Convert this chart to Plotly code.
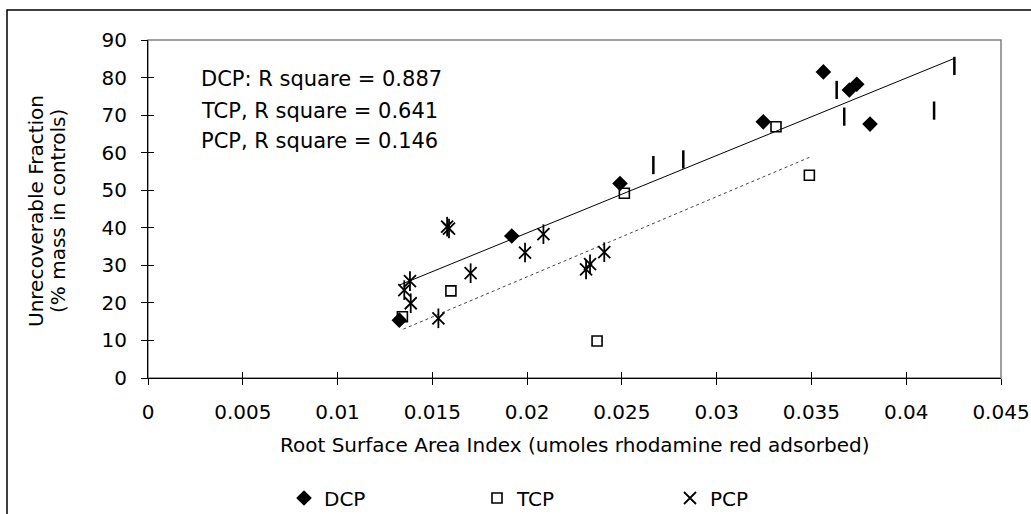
import plotly.graph_objects as go

# values
dcp_x = [0.01326, 0.01919, 0.0249, 0.03246, 0.03563, 0.0370, 0.03739, 0.03809]
dcp_y = [15.4, 37.8, 51.8, 68.2, 81.5, 76.7, 78.2, 67.6]

# extra unlabelled points drawn as short vertical bars
bar_x = [0.02666, 0.02824, 0.03633, 0.03673, 0.04147, 0.04254]
bar_y = [56.7, 58.2, 76.7, 69.6, 71.2, 83.1]

tcp_x = [0.01342, 0.01598, 0.02369, 0.02513, 0.03313, 0.03489]
tcp_y = [16.3, 23.2, 9.85, 49.2, 66.9, 54.0]

pcp_x = [0.01352, 0.01382, 0.01386, 0.01532, 0.01578, 0.01588, 0.01702,
         0.01989, 0.02086, 0.02311, 0.02332, 0.02407]
pcp_y = [23.4, 25.8, 19.9, 15.9, 40.3, 39.8, 27.9, 33.4, 38.3, 28.9, 30.3, 33.5]

# trend lines (end points as drawn)
fit_dcp_x = [0.01329, 0.04254]
fit_dcp_y = [24.8, 85.1]
fit_tcp_x = [0.01347, 0.03492]
fit_tcp_y = [13.0, 58.8]

x_ticks = [0, 0.005, 0.01, 0.015, 0.02, 0.025, 0.03, 0.035, 0.04, 0.045]
x_labels = ["0", "0.005", "0.01", "0.015", "0.02", "0.025", "0.03", "0.035", "0.04", "0.045"]
y_ticks = [0, 10, 20, 30, 40, 50, 60, 70, 80, 90]

r2_notes = ["DCP: R square = 0.887", "TCP, R square = 0.641", "PCP, R square = 0.146"]

FONT = "DejaVu Sans, Liberation Sans, Arial, sans-serif"
FS = 20

W, H = 1031, 514
L, R, T, B = 148, 1001, 40, 378   # plot area in pixels


def px(x):
    return (x - L) / (R - L)


def py(y):
    return (B - y) / (B - T)


fig = go.Figure()

fig.add_trace(go.Scatter(x=fit_dcp_x, y=fit_dcp_y, mode="lines",
                         line=dict(color="black", width=1), showlegend=False, hoverinfo="skip"))
fig.add_trace(go.Scatter(x=fit_tcp_x, y=fit_tcp_y, mode="lines",
                         line=dict(color="#444444", width=1, dash="dot"), showlegend=False, hoverinfo="skip"))

fig.add_trace(go.Scatter(x=dcp_x, y=dcp_y, mode="markers", name="DCP",
                         marker=dict(symbol="diamond", size=12, color="black")))
fig.add_trace(go.Scatter(x=bar_x, y=bar_y, mode="markers", showlegend=False,
                         marker=dict(symbol="line-ns-open", size=13, color="black",
                                     line=dict(color="black", width=2.5))))
fig.add_trace(go.Scatter(x=tcp_x, y=tcp_y, mode="markers", name="TCP",
                         marker=dict(symbol="square-open", size=10, color="black",
                                     line=dict(color="black", width=1.6))))
fig.add_trace(go.Scatter(x=pcp_x, y=pcp_y, mode="markers", name="PCP",
                         marker=dict(symbol="x-thin-open", size=12, color="black",
                                     line=dict(color="black", width=1.8))))
fig.add_trace(go.Scatter(x=pcp_x, y=pcp_y, mode="markers", showlegend=False,
                         marker=dict(symbol="line-ns-open", size=14, color="black",
                                     line=dict(color="black", width=1.8))))

axis_common = dict(showgrid=False, zeroline=False, ticklen=6, tickcolor="black",
                   tickwidth=1, automargin=False)

fig.update_layout(
    width=W, height=H,
    margin=dict(l=L, r=W - R, t=T, b=H - B),
    paper_bgcolor="white", plot_bgcolor="white",
    font=dict(family=FONT, size=FS, color="black"),
    xaxis=dict(range=[0, 0.045], tickvals=x_ticks, ticktext=x_labels, ticks="outside",
               ticklabelstandoff=10,
               showline=True, linecolor="black", linewidth=1, **axis_common),
    yaxis=dict(range=[0, 90], tickvals=y_ticks, ticks="outside", ticklabelstandoff=10,
               showline=True, linecolor="black", linewidth=1, **axis_common),
    xaxis2=dict(range=[0, 0.045], tickvals=x_ticks, ticks="inside", overlaying="x",
                showticklabels=False, showline=False, **axis_common),
    yaxis2=dict(range=[0, 90], tickvals=y_ticks, ticks="inside", overlaying="y",
                showticklabels=False, showline=False, **axis_common),
    legend=dict(orientation="h", xref="container", yref="container",
                x=284 / W, xanchor="left", y=1 - 498 / H, yanchor="middle",
                font=dict(size=FS), entrywidth=148, entrywidthmode="pixels",
                itemwidth=30, bgcolor="rgba(0,0,0,0)"),
    shapes=[
        dict(type="rect", xref="paper", yref="paper", x0=0, x1=1, y0=0, y1=1,
             line=dict(color="#808080", width=1.5), layer="below"),
        dict(type="rect", xref="paper", yref="paper",
             x0=px(7), x1=px(1060), y0=py(560), y1=py(10),
             line=dict(color="black", width=1.5), layer="below"),
    ],
)

# invisible trace so the overlay axes get drawn
fig.add_trace(go.Scatter(x=[None], y=[None], xaxis="x2", yaxis="y2", showlegend=False))

notes_y = [79, 110.5, 141]
for txt, yy in zip(r2_notes, notes_y):
    fig.add_annotation(text=txt, xref="paper", yref="paper", x=px(199), y=py(yy),
                       xanchor="left", yanchor="middle", showarrow=False,
                       font=dict(size=21))

fig.add_annotation(text="Root Surface Area Index (umoles rhodamine red adsorbed)",
                   xref="paper", yref="paper", x=0.5, y=py(445),
                   xanchor="center", yanchor="middle", showarrow=False)
fig.add_annotation(text="Unrecoverable Fraction", xref="paper", yref="paper",
                   x=px(36), y=py(211), textangle=-90,
                   xanchor="center", yanchor="middle", showarrow=False)
fig.add_annotation(text="(% mass in controls)", xref="paper", yref="paper",
                   x=px(58), y=py(211), textangle=-90,
                   xanchor="center", yanchor="middle", showarrow=False)

# drop the default body margin so the figure fills the window exactly
fig.write_html("out.html", config={"displayModeBar": False},
               post_script="document.body.style.margin='0';document.body.style.overflow='hidden';")
